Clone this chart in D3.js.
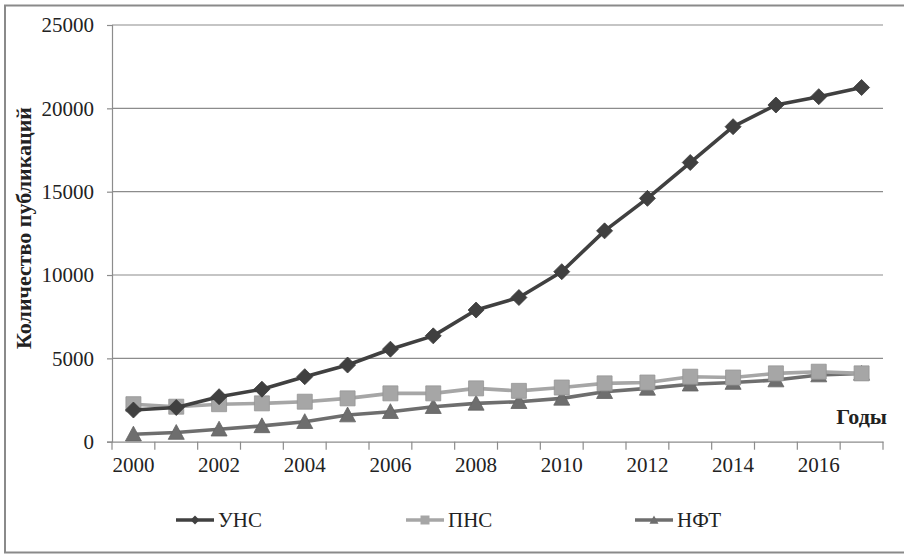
<!DOCTYPE html>
<html><head><meta charset="utf-8">
<script src="https://cdn.jsdelivr.net/npm/d3@7"></script>
<style>body{margin:0;background:#fff}svg{display:block}</style>
</head><body>
<svg id="c" width="904" height="554"></svg>
<script>
const years = [2000,2001,2002,2003,2004,2005,2006,2007,2008,2009,2010,2011,2012,2013,2014,2015,2016,2017];
const unsValues = [1900,2050,2700,3150,3900,4600,5550,6350,7900,8650,10200,12650,14600,16750,18900,20200,20700,21250];
const pnsValues = [2250,2100,2250,2300,2400,2600,2900,2900,3200,3050,3250,3500,3550,3900,3850,4100,4200,4100];
const nftValues = [450,550,750,950,1200,1600,1800,2100,2300,2400,2600,3000,3200,3450,3550,3700,4000,4100];
const yTicks = [0,5000,10000,15000,20000,25000];
const xLabelYears = [2000,2002,2004,2006,2008,2010,2012,2014,2016];
const seriesNames = ["УНС","ПНС","НФТ"];

const svg = d3.select("#c");
const font = "Liberation Serif";

// frame
svg.append("path").attr("d","M905,5.5 H5 V552.5 H905").attr("fill","none").attr("stroke","#8a8a8a").attr("stroke-width",2);

const x = d3.scaleBand().domain(years).range([112,883]).padding(0);
const y = d3.scaleLinear().domain([0,25000]).range([441.7,25]);

// gridlines
svg.append("g").selectAll("line").data(yTicks.filter(d=>d>0)).join("line")
  .attr("x1",112).attr("x2",883).attr("y1",d=>y(d)).attr("y2",d=>y(d))
  .attr("stroke","#8c8c8c").attr("stroke-width",1.2);

// y axis
const yAxis = svg.append("g").attr("transform","translate(112,0)")
  .call(d3.axisLeft(y).tickValues(yTicks).tickSize(5).tickPadding(13).tickFormat(d3.format("d")));
yAxis.select(".domain").attr("stroke","#8c8c8c").attr("stroke-width",1.2);
yAxis.selectAll(".tick line").attr("stroke","#8c8c8c").attr("stroke-width",1.2);
yAxis.selectAll("text").style("font-family",font).style("font-size","21px").attr("fill","#222");

// x axis
const xAxis = svg.append("g").attr("transform",`translate(0,${y(0)})`)
  .call(d3.axisBottom(x).tickValues(xLabelYears).tickSize(0).tickPadding(15));
xAxis.select(".domain").attr("stroke","#8c8c8c").attr("stroke-width",1.2);
xAxis.selectAll("text").style("font-family",font).style("font-size","21px").attr("fill","#222");
// x tick marks between categories
const bounds = years.map(d=>x(d)).concat([x(years[years.length-1])+x.bandwidth()]);
svg.append("g").selectAll("line").data(bounds).join("line")
  .attr("x1",d=>d).attr("x2",d=>d).attr("y1",y(0)).attr("y2",y(0)+8)
  .attr("stroke","#8c8c8c").attr("stroke-width",1.2);

const cx = d => x(d)+x.bandwidth()/2;
const series = [
  {name:seriesNames[0], values:unsValues, color:"#404040", kind:"diamond", size:16},
  {name:seriesNames[1], values:pnsValues, color:"#a6a6a6", kind:"square", size:15},
  {name:seriesNames[2], values:nftValues, color:"#6e6e6e", kind:"triangle", size:16}
];
function markerPath(s, r){
  if (s.kind==="diamond") return `M0,${-r}L${r},0L0,${r}L${-r},0Z`;
  if (s.kind==="square") return `M${-r},${-r}H${r}V${r}H${-r}Z`;
  return `M0,${-r}L${r},${r*0.85}H${-r}Z`;
}
const line = d3.line().x((v,i)=>cx(years[i])).y(v=>y(v));
[series[2],series[1],series[0]].forEach(s=>{
  const g = svg.append("g");
  g.append("path").attr("d",line(s.values)).attr("fill","none").attr("stroke",s.color).attr("stroke-width",3.6).attr("stroke-linejoin","round");
  g.selectAll("path.m").data(s.values).join("path").attr("class","m")
    .attr("transform",(v,i)=>`translate(${cx(years[i])},${y(v)})`)
    .attr("d",markerPath(s, s.size/2)).attr("fill",s.color)
    .attr("stroke",d3.color(s.color).darker(0.3)).attr("stroke-width",0.8);
});

// legend
const legendX = [176,406,635];
const ly = 520;
series.forEach((s,i)=>{
  const g = svg.append("g").attr("transform",`translate(${legendX[i]},${ly})`);
  g.append("line").attr("x1",0).attr("x2",38).attr("y1",0).attr("y2",0).attr("stroke",s.color).attr("stroke-width",3.6);
  g.append("path").attr("transform","translate(19,0)").attr("d",markerPath(s,4.5)).attr("fill",s.color);
  g.append("text").attr("x",42).attr("y",7).text(s.name).style("font-family",font).style("font-size","21px").attr("fill","#222");
});

// axis titles
svg.append("text").attr("transform","translate(31,228) rotate(-90)").attr("text-anchor","middle")
  .style("font-family",font).style("font-weight","bold").style("font-size","22px").attr("fill","#222").text("Количество публикаций");
svg.append("text").attr("x",887).attr("y",424).attr("text-anchor","end")
  .style("font-family",font).style("font-weight","bold").style("font-size","22px").attr("fill","#222").text("Годы");
</script>
</body></html>
